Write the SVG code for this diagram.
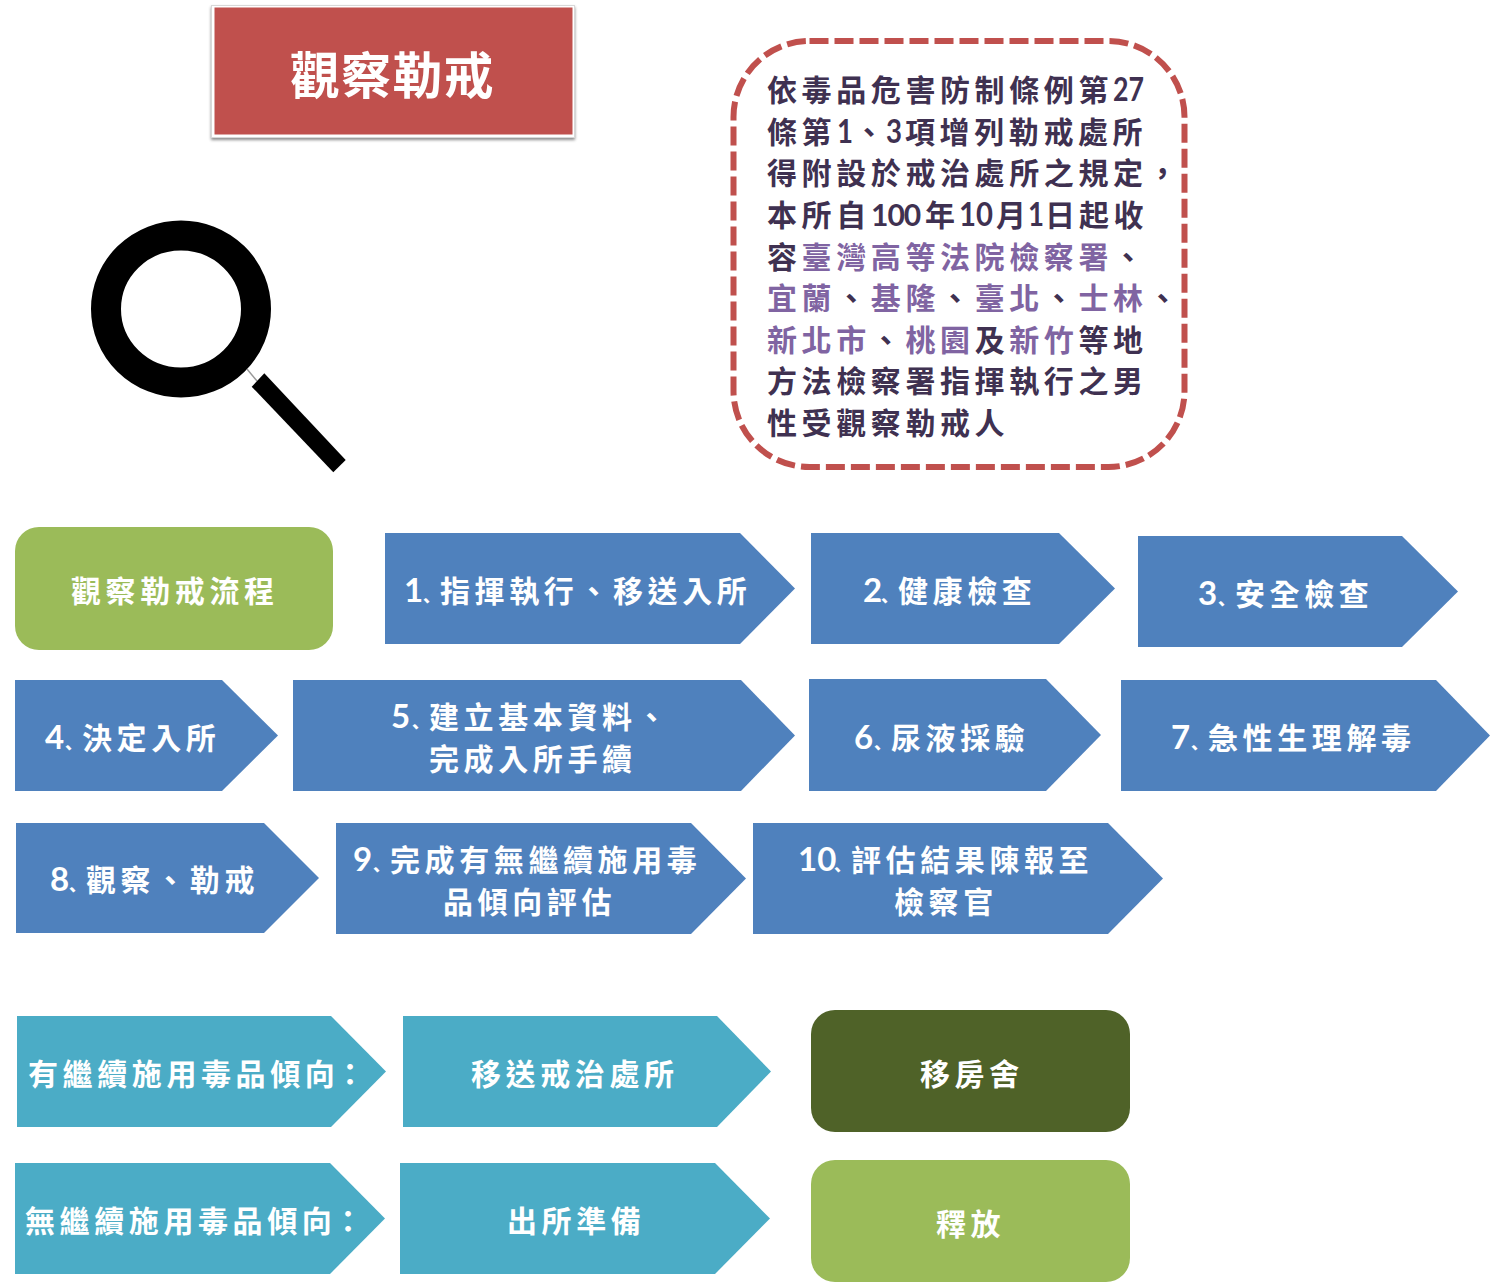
<svg xmlns="http://www.w3.org/2000/svg" width="1490" height="1282" viewBox="0 0 1490 1282">
<defs>
<filter id="sh" x="-5%" y="-10%" width="110%" height="125%"><feDropShadow dx="0" dy="2" stdDeviation="1.5" flood-color="#000" flood-opacity="0.45"/></filter>
</defs>
<style>
text{font-family:"Noto Sans CJK TC","Noto Sans CJK SC",sans-serif;font-weight:700;font-size:30px;letter-spacing:4.6px;white-space:pre}
.w{fill:#fff}
.d{fill:#3f3151}
.p{fill:#8064a2}
.n{font-family:"Lato","Open Sans",sans-serif;font-weight:700;font-size:33px;letter-spacing:0}
.m{font-family:"Noto Sans CJK SC",sans-serif;font-size:17px;letter-spacing:0;font-weight:900}
.s{letter-spacing:0}
.blue{fill:#4f81bd}
.teal{fill:#4bacc6}
</style>
<rect width="1490" height="1282" fill="#fff"/>
<g id="title">
<rect x="211.500" y="5.500" width="363" height="132" fill="#fff" stroke="#d8d8d8" stroke-width="1" filter="url(#sh)"/>
<rect x="214.500" y="7.500" width="358" height="127" fill="#c0504d"/>
<text class="w" x="290" y="94" style="font-size:50px;letter-spacing:1.200px">觀察勒戒</text>
</g>
<g id="note">
<rect x="733.500" y="41" width="451" height="426" rx="76" ry="76" fill="#fff" stroke="#c0504d" stroke-width="6" stroke-dasharray="19 6"/>
<text class="d" x="767" y="101">依毒品危害防制條例第</text><text class="d n" x="1113" y="101" textLength="31" lengthAdjust="spacingAndGlyphs">27</text>
<text class="d" x="767" y="143">條第</text><text class="d n" x="837" y="143" textLength="16" lengthAdjust="spacingAndGlyphs">1</text><text class="d s" x="854" y="143">、</text><text class="d n" x="886" y="143" textLength="16" lengthAdjust="spacingAndGlyphs">3</text><text class="d" x="905" y="143">項增列勒戒處所</text>
<text class="d" x="767" y="184">得附設於戒治處所之規定，</text>
<text class="d" x="767" y="226">本所自</text><text class="d n" x="871" y="226" style="font-size:30px;letter-spacing:-1px">100</text><text class="d s" x="925" y="226">年</text><text class="d n" x="959" y="226" textLength="34" lengthAdjust="spacingAndGlyphs">10</text><text class="d s" x="996" y="226">月</text><text class="d n" x="1028" y="226" textLength="16" lengthAdjust="spacingAndGlyphs">1</text><text class="d s" x="1045" y="226">日</text><text class="d" x="1079" y="226">起收</text>
<text class="d" y="268"><tspan x="767">容</tspan><tspan class="p">臺灣高等法院檢察署</tspan>、</text>
<text class="d" y="309"><tspan x="767" class="p">宜蘭</tspan>、<tspan class="p">基隆</tspan>、<tspan class="p">臺北</tspan>、<tspan class="p">士林</tspan>、</text>
<text class="d" y="351"><tspan x="767" class="p">新北市</tspan>、<tspan class="p">桃園</tspan>及<tspan class="p">新竹</tspan>等地</text>
<text class="d" y="392" x="767">方法檢察署指揮執行之男</text>
<text class="d" y="434" x="767">性受觀察勒戒人</text>
</g>
<g id="magnifier">
<ellipse cx="181" cy="309" rx="75" ry="73.500" fill="none" stroke="#000" stroke-width="30"/>
<line x1="247" y1="369" x2="257" y2="381" stroke="#999" stroke-width="1.500"/>
<polygon points="264.300,373.300 251.700,386.700 333.300,472.300 345.700,460" fill="#000"/>
</g>
<g id="flow-head"><rect x="15" y="527" width="318" height="123" rx="24" fill="#9bbb59"/><text class="w" x="71" y="602">觀察勒戒流程</text></g>
<g id="step1"><polygon class="blue" points="385,533 740,533 795,588.500 740,644 385,644"/><text class="w" y="602"><tspan class="n" x="404">1</tspan><tspan class="m" x="423">、</tspan><tspan x="440">指揮執行、移送入所</tspan></text></g>
<g id="step2"><polygon class="blue" points="811,533 1059,533 1115,588.500 1059,644 811,644"/><text class="w" y="602"><tspan class="n" x="863">2</tspan><tspan class="m" x="881">、</tspan><tspan x="898">健康檢查</tspan></text></g>
<g id="step3"><polygon class="blue" points="1138,536 1402,536 1458,591.500 1402,647 1138,647"/><text class="w" y="605"><tspan class="n" x="1198">3</tspan><tspan class="m" x="1218">、</tspan><tspan x="1235">安全檢查</tspan></text></g>
<g id="step4"><polygon class="blue" points="15,680 222,680 278,735.500 222,791 15,791"/><text class="w" y="749"><tspan class="n" x="45">4</tspan><tspan class="m" x="65">、</tspan><tspan x="82">決定入所</tspan></text></g>
<g id="step5"><polygon class="blue" points="293,680 741,680 795,735.500 741,791 293,791"/><text class="w" y="728"><tspan class="n" x="391">5</tspan><tspan class="m" x="412">、</tspan><tspan x="429">建立基本資料、</tspan></text><text class="w" x="429" y="770">完成入所手續</text></g>
<g id="step6"><polygon class="blue" points="809,679 1046,679 1101,735 1046,791 809,791"/><text class="w" y="749"><tspan class="n" x="854">6</tspan><tspan class="m" x="874">、</tspan><tspan x="891">尿液採驗</tspan></text></g>
<g id="step7"><polygon class="blue" points="1121,680 1436,680 1490,735.500 1436,791 1121,791"/><text class="w" y="749"><tspan class="n" x="1171">7</tspan><tspan class="m" x="1191">、</tspan><tspan x="1208">急性生理解毒</tspan></text></g>
<g id="step8"><polygon class="blue" points="16,823 264,823 319,878 264,933 16,933"/><text class="w" y="891"><tspan class="n" x="50">8</tspan><tspan class="m" x="69">、</tspan><tspan x="86">觀察、勒戒</tspan></text></g>
<g id="step9"><polygon class="blue" points="336,823 691,823 746,878.500 691,934 336,934"/><text class="w" y="871"><tspan class="n" x="353">9</tspan><tspan class="m" x="373">、</tspan><tspan x="390">完成有無繼續施用毒</tspan></text><text class="w" x="443" y="913">品傾向評估</text></g>
<g id="step10"><polygon class="blue" points="753,823 1108,823 1163,878.500 1108,934 753,934"/><text class="w" y="871"><tspan class="n" x="798">10</tspan><tspan class="m" x="834">、</tspan><tspan x="851">評估結果陳報至</tspan></text><text class="w" x="894" y="913">檢察官</text></g>
<g id="yes"><polygon class="teal" points="17,1016 331,1016 386,1071.500 331,1127 17,1127"/><text class="w" y="1085"><tspan x="28">有繼續施用毒品傾</tspan><tspan class="s" x="304.800">向</tspan><tspan x="335">：</tspan></text></g>
<g id="yes-action"><polygon class="teal" points="403,1016 717,1016 771,1071.500 717,1127 403,1127"/><text class="w" x="471" y="1085">移送戒治處所</text></g>
<g id="yes-result"><rect x="811" y="1010" width="319" height="122" rx="24" fill="#4f6228"/><text class="w" x="920" y="1085">移房舍</text></g>
<g id="no"><polygon class="teal" points="15,1163 330,1163 385,1218.500 330,1274 15,1274"/><text class="w" y="1232"><tspan x="25">無繼續施用毒品傾</tspan><tspan class="s" x="301.800">向</tspan><tspan x="333">：</tspan></text></g>
<g id="no-action"><polygon class="teal" points="400,1163 715,1163 770,1218.500 715,1274 400,1274"/><text class="w" x="507" y="1232">出所準備</text></g>
<g id="no-result"><rect x="811" y="1160" width="319" height="122" rx="24" fill="#9bbb59"/><text class="w" x="936" y="1235">釋放</text></g>
<g id="connectors"></g>
</svg>
